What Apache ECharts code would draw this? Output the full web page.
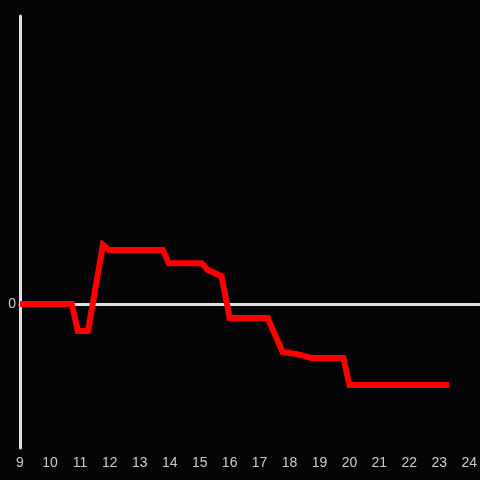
<!DOCTYPE html>
<html>
<head>
<meta charset="utf-8">
<script src="https://cdn.jsdelivr.net/npm/echarts@6/dist/echarts.min.js"></script>
<style>
  html, body { margin: 0; padding: 0; background: #050407; }
  #chart { width: 480px; height: 480px; }
</style>
</head>
<body>
<div id="chart"></div>
<script>
// hours of day and value at each point
const hours = [9.0, 10.73, 10.93, 11.27, 11.77, 11.97, 13.77, 13.97, 15.07, 15.27, 15.73, 16.0, 17.27, 17.77, 18.23, 18.73, 19.8, 20.0, 23.33];
const values = [0, 0, -0.56, -0.56, 1.23, 1.125, 1.125, 0.85, 0.85, 0.71, 0.58, -0.29, -0.29, -1.0, -1.04, -1.125, -1.125, -1.69, -1.69];

const chart = echarts.init(document.getElementById('chart'));
chart.setOption({
    backgroundColor: '#050407',
    animation: false,
    grid: { left: 20, right: 0, top: 16, bottom: 32 },
    xAxis: {
        type: 'value',
        min: 9,
        max: 24.33,
        interval: 1,
        axisLine: { onZero: true, lineStyle: { color: '#e0e0e0', width: 3 } },
        axisTick: { show: false },
        splitLine: { show: false },
        axisLabel: {
            color: '#cccccc', fontSize: 14, showMaxLabel: false,
            formatter: v => Number.isInteger(v) ? String(v) : ''
        }
    },
    yAxis: {
        type: 'value',
        min: -3,
        max: 6,
        interval: 3,
        axisLine: { show: true, onZero: false, lineStyle: { color: '#e0e0e0', width: 3 } },
        axisTick: { show: false },
        splitLine: { show: false },
        axisLabel: {
            color: '#cccccc', fontSize: 14, margin: 4,
            formatter: v => v === 0 ? '0' : ''
        }
    },
    series: [{
        type: 'line',
        data: hours.map((h, i) => [h, values[i]]),
        showSymbol: false,
        lineStyle: { color: '#ff0000', width: 6, join: 'miter' }
    }]
});
</script>
</body>
</html>
